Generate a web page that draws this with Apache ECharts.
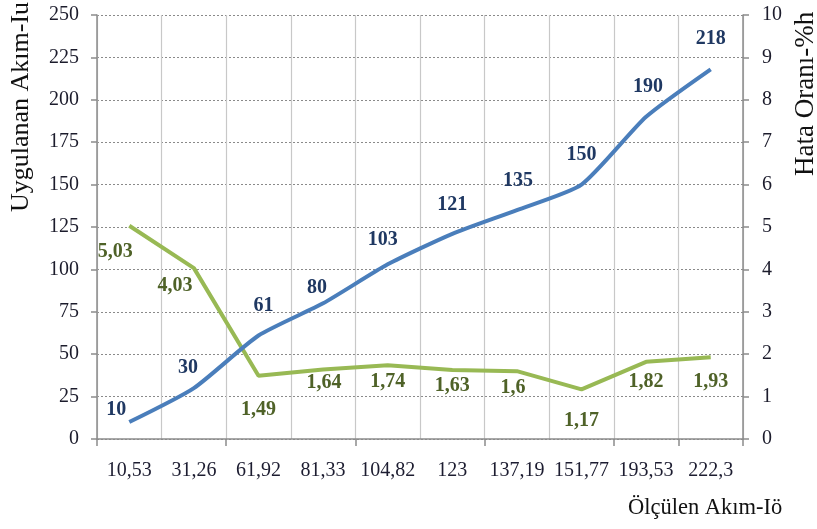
<!DOCTYPE html>
<html><head><meta charset="utf-8">
<script src="https://cdn.jsdelivr.net/npm/echarts@6/dist/echarts.min.js"></script>
<style>html,body{margin:0;padding:0;background:#fff}#c{width:817px;height:529px}</style>
</head><body><div id="c"></div>
<script>
var categories = ['10,53','31,26','61,92','81,33','104,82','123','137,19','151,77','193,53','222,3'];
var currentValues = [10, 30, 61, 80, 103, 121, 135, 150, 190, 218];
var errorValues = [5.03, 4.03, 1.49, 1.64, 1.74, 1.63, 1.6, 1.17, 1.82, 1.93];
var leftTicks = [0, 25, 50, 75, 100, 125, 150, 175, 200, 225, 250];
var rightTicks = [0, 1, 2, 3, 4, 5, 6, 7, 8, 9, 10];

// label nudges (pixels) relative to default label placement
var currentLabelNudge = [[-13, 18], [-6, 10], [5, 0], [-6, 15], [-5, 6], [0, 1], [1, 1], [0, 0], [2, 0], [0, 0]];
var errorLabelNudge = [[-14, 7], [-19, -1], [0, 15], [1, -6], [0, -2], [0, -3], [-4, -2], [0, 12], [0, 1], [0, 6]];

var serif = '"Liberation Serif", "DejaVu Serif", serif';
function fmt(v) { return String(v).replace('.', ','); }

var chart = echarts.init(document.getElementById('c'));
chart.setOption({
  animation: false,
  grid: {left: 97, right: 74, top: 15, bottom: 90},
  xAxis: {
    type: 'category', data: categories, boundaryGap: true,
    axisLine: {lineStyle: {color: '#8c8c8c', width: 1.5}},
    axisTick: {show: true, interval: 1, length: 7, lineStyle: {color: '#8c8c8c', width: 1.5}},
    axisLabel: {interval: 0, margin: 22, fontFamily: serif, fontSize: 20, color: '#1c1c30'},
    splitLine: {show: true, interval: 0, lineStyle: {color: '#c8c8c8', width: 1.2}}
  },
  yAxis: [{
    type: 'value', min: leftTicks[0], max: leftTicks[leftTicks.length-1], interval: 25,
    axisLine: {show: true, lineStyle: {color: '#8c8c8c', width: 1.5}},
    axisTick: {show: true, length: 6, lineStyle: {color: '#8c8c8c', width: 1.5}},
    axisLabel: {margin: 18, fontFamily: serif, fontSize: 20, color: '#1c1c2c'},
    splitLine: {show: true, lineStyle: {color: '#8a8a8a', type: [2, 2], width: 1}}
  }, {
    type: 'value', min: rightTicks[0], max: rightTicks[rightTicks.length-1], interval: 1,
    axisLine: {show: true, lineStyle: {color: '#8c8c8c', width: 1.5}},
    axisTick: {show: true, length: 6, lineStyle: {color: '#8c8c8c', width: 1.5}},
    axisLabel: {margin: 19, fontFamily: serif, fontSize: 20, color: '#1c1c2c'},
    splitLine: {show: false}
  }],
  series: [{
    type: 'line', yAxisIndex: 0, smooth: 0.2,
    data: currentValues.map(function (v, i) {
      return {value: v, label: {offset: currentLabelNudge[i]}};
    }),
    symbol: 'circle', symbolSize: 0, showSymbol: true,
    itemStyle: {color: '#4a7ebb'},
    lineStyle: {color: '#4a7ebb', width: 4},
    label: {show: true, position: 'top', distance: 20, fontFamily: serif, fontWeight: 'bold', fontSize: 20, color: '#1f3862', formatter: function (p) { return fmt(p.value); }},
    z: 3
  }, {
    type: 'line', yAxisIndex: 1,
    data: errorValues.map(function (v, i) {
      return {value: v, label: {offset: errorLabelNudge[i]}};
    }),
    symbol: 'circle', symbolSize: 0, showSymbol: true,
    itemStyle: {color: '#98b954'},
    lineStyle: {color: '#98b954', width: 4},
    label: {show: true, position: 'bottom', distance: 9, fontFamily: serif, fontWeight: 'bold', fontSize: 20, color: '#4f6228', formatter: function (p) { return fmt(p.value); }},
    z: 2
  }],
  graphic: [
    {type: 'text', rotation: Math.PI/2, x: 8, y: 212, style: {text: 'Uygulanan Akım-Iu', font: '26px ' + serif, fill: '#111'}},
    {type: 'text', rotation: Math.PI/2, x: 792, y: 176, style: {text: 'Hata Oranı-%h', font: '27px ' + serif, fill: '#111'}},
    {type: 'text', x: 628, y: 497, style: {text: 'Ölçülen Akım-Iö', font: '22.5px ' + serif, fill: '#111'}}
  ]
});
</script></body></html>
